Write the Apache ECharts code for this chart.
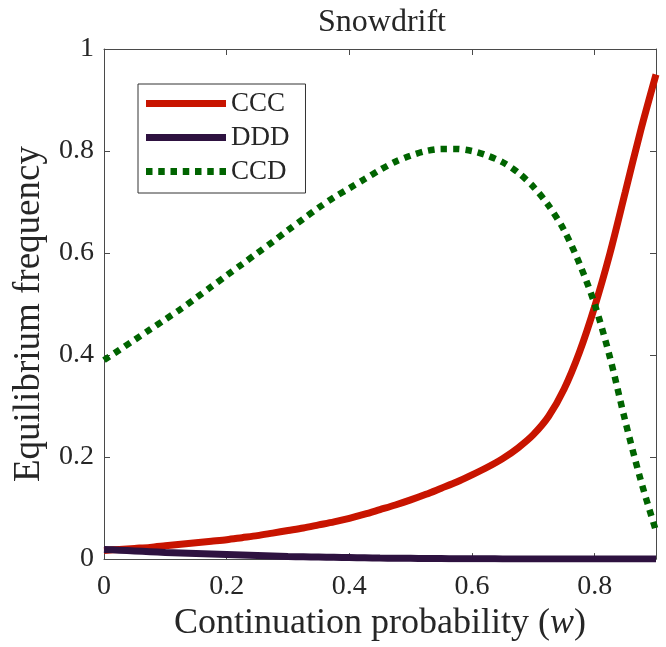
<!DOCTYPE html>
<html>
<head>
<meta charset="utf-8">
<script src="https://cdn.jsdelivr.net/npm/echarts@6/dist/echarts.min.js"></script>
<style>
  html, body { margin: 0; padding: 0; background: #fff; }
  #chart { width: 666px; height: 647px; }
</style>
</head>
<body>
<div id="chart"></div>
<script>
// continuation probability w, step 0.025
const wValues = [0, 0.025, 0.05, 0.075, 0.1, 0.125, 0.15, 0.175, 0.2, 0.225, 0.25, 0.275, 0.3, 0.325, 0.35, 0.375, 0.4, 0.425, 0.45,
  0.475, 0.5, 0.525, 0.55, 0.575, 0.6, 0.625, 0.65, 0.675, 0.7, 0.725, 0.75, 0.775, 0.8, 0.825, 0.85, 0.875, 0.9];
const ccc = [0.017, 0.019, 0.021, 0.023, 0.026, 0.029, 0.032, 0.035, 0.038, 0.042, 0.046, 0.051, 0.056, 0.061, 0.067, 0.073, 0.08, 0.088, 0.097,
  0.106, 0.116, 0.127, 0.139, 0.151, 0.165, 0.18, 0.197, 0.218, 0.244, 0.28, 0.333, 0.405, 0.495, 0.6, 0.72, 0.84, 0.95];
const ddd = [0.019, 0.0175, 0.016, 0.0145, 0.013, 0.012, 0.011, 0.01, 0.009, 0.008, 0.007, 0.006, 0.005, 0.0045, 0.004, 0.0035, 0.003, 0.0025, 0.002,
  0.0018, 0.0015, 0.0012, 0.001, 0.0008, 0.0006, 0.0005, 0.0004, 0.0003, 0.0002, 0.0001, 0.0001, 0, 0, 0, 0, 0, 0];
const ccd = [0.39, 0.41, 0.43, 0.45, 0.47, 0.49, 0.512, 0.534, 0.556, 0.578, 0.6, 0.622, 0.645, 0.667, 0.689, 0.709, 0.727, 0.745, 0.763,
  0.779, 0.791, 0.8, 0.804, 0.804, 0.8, 0.791, 0.778, 0.758, 0.73, 0.693, 0.645, 0.58, 0.5, 0.395, 0.27, 0.155, 0.055];

const seriesNames = ['CCC', 'DDD', 'CCD'];
const seriesColors = ['#c81400', '#2e1240', '#006400'];

// legend swatches: thick solid bar, and a row of square dots
const solidIcon = 'path://M0,0H80V7H0Z';
const dotIcon = 'path://M0,0h6.5v7h-6.5Z M12.25,0h6.5v7h-6.5Z M24.5,0h6.5v7h-6.5Z M36.75,0h6.5v7h-6.5Z M49,0h6.5v7h-6.5Z M61.25,0h6.5v7h-6.5Z M73.5,0h6.5v7h-6.5Z';

const font = 'Liberation Serif';
const textColor = '#262626';

function pairs(vals) {
  return wValues.map((w, i) => [w, vals[i]]);
}

const chart = echarts.init(document.getElementById('chart'));

const axisCommon = {
  axisLine: { show: true, onZero: false, lineStyle: { color: '#4a4a4a', width: 1 } },
  axisTick: { show: true, inside: true, length: 6, lineStyle: { color: '#4a4a4a' } },
  splitLine: { show: false }
};

chart.setOption({
  animation: false,
  backgroundColor: '#fff',
  title: {
    text: 'Snowdrift',
    left: 377,
    textAlign: 'center',
    top: 2,
    textStyle: { fontFamily: font, fontSize: 32, fontWeight: 'normal', color: textColor }
  },
  legend: {
    orient: 'vertical',
    left: 138,
    top: 84,
    padding: [6, 16, 8, 8],
    itemWidth: 80,
    itemHeight: 14,
    itemGap: 7,
    borderColor: '#333',
    borderWidth: 1,
    backgroundColor: '#fff',
    textStyle: { fontFamily: font, fontSize: 27, color: textColor, lineHeight: 26 },
    data: [
      { name: seriesNames[0], icon: solidIcon },
      { name: seriesNames[1], icon: solidIcon },
      { name: seriesNames[2], icon: dotIcon }
    ]
  },
  grid: { left: 104, right: 10, top: 49, bottom: 84 },
  xAxis: [
    Object.assign({
      type: 'value',
      min: 0,
      max: 0.9,
      interval: 0.2,
      position: 'bottom',
      name: 'Continuation probability ({i|w})',
      nameLocation: 'middle',
      nameGap: 39,
      nameTextStyle: {
        fontFamily: font, fontSize: 36, color: textColor,
        rich: { i: { fontFamily: font, fontSize: 36, fontStyle: 'italic', color: textColor } }
      },
      axisLabel: { showMaxLabel: false, fontFamily: font, fontSize: 28, color: textColor, margin: 14 }
    }, axisCommon),
    Object.assign({
      type: 'value',
      min: 0,
      max: 0.9,
      interval: 0.2,
      position: 'top',
      axisLabel: { show: false }
    }, axisCommon)
  ],
  yAxis: [
    Object.assign({
      type: 'value',
      min: 0,
      max: 1,
      interval: 0.2,
      position: 'left',
      name: 'Equilibrium frequency',
      nameLocation: 'middle',
      nameGap: 54,
      nameTextStyle: { fontFamily: font, fontSize: 37, color: textColor, padding: [0, 20, 0, 0] },
      axisLabel: { fontFamily: font, fontSize: 28, color: textColor, margin: 10 }
    }, axisCommon),
    Object.assign({
      type: 'value',
      min: 0,
      max: 1,
      interval: 0.2,
      position: 'right',
      axisLabel: { show: false }
    }, axisCommon)
  ],
  series: [
    {
      name: seriesNames[0], type: 'line', smooth: 0.3, symbol: 'none',
      data: pairs(ccc), color: seriesColors[0],
      lineStyle: { width: 7, color: seriesColors[0] }
    },
    {
      name: seriesNames[1], type: 'line', smooth: 0.3, symbol: 'none',
      data: pairs(ddd), color: seriesColors[1],
      lineStyle: { width: 7, color: seriesColors[1] }
    },
    {
      name: seriesNames[2], type: 'line', smooth: 0.3, symbol: 'none',
      data: pairs(ccd), color: seriesColors[2],
      lineStyle: { width: 6.5, color: seriesColors[2], type: [6.5, 6], cap: 'butt' }
    }
  ]
});
</script>
</body>
</html>
